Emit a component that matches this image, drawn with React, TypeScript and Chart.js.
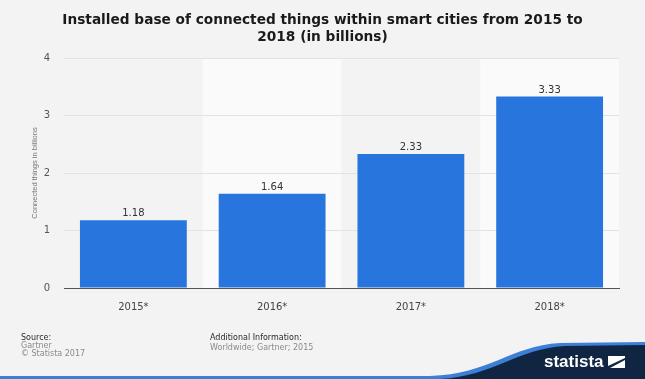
import React, { useEffect, useRef } from "react";
import { Chart, registerables } from "chart.js";

Chart.register(...registerables);

const categories = ["2015*", "2016*", "2017*", "2018*"];
const values = [1.18, 1.64, 2.33, 3.33];
const valueLabels = ["1.18", "1.64", "2.33", "3.33"];
const titleLines = [
  "Installed base of connected things within smart cities from 2015 to",
  "2018 (in billions)",
];
const yAxisTitle = "Connected things in billions";

const W = 645;
const H = 379;

const decor = {
  id: "decor",
  beforeDraw(chart: any) {
    const { ctx, chartArea, scales } = chart;
    ctx.save();
    ctx.fillStyle = "#f3f3f3";
    ctx.fillRect(0, 0, W, H);
    const x = scales.x;
    const step = (chartArea.right - chartArea.left) / categories.length;
    ctx.fillStyle = "#fafafa";
    categories.forEach((_, i) => {
      if (i % 2 === 1) {
        const cx = x.getPixelForValue(i);
        ctx.fillRect(cx - step / 2, chartArea.top, step, chartArea.bottom - chartArea.top);
      }
    });
    ctx.restore();
  },
  afterDraw(chart: any) {
    const { ctx, chartArea } = chart;
    ctx.save();
    // title
    ctx.fillStyle = "#1a1a1a";
    ctx.font = "bold 13.7px 'DejaVu Sans'";
    ctx.textAlign = "center";
    ctx.textBaseline = "middle";
    ctx.fillText(titleLines[0], W / 2, 20);
    ctx.fillText(titleLines[1], W / 2, 37);
    // y axis title
    ctx.save();
    ctx.translate(35, (chartArea.top + chartArea.bottom) / 2);
    ctx.rotate(-Math.PI / 2);
    ctx.fillStyle = "#777";
    ctx.font = "7.5px 'Liberation Sans'";
    ctx.fillText(yAxisTitle, 0, 0);
    ctx.restore();
    // data labels
    const meta = chart.getDatasetMeta(0);
    ctx.fillStyle = "#333";
    ctx.font = "10px 'DejaVu Sans'";
    ctx.textBaseline = "alphabetic";
    meta.data.forEach((bar: any, i: number) => {
      ctx.fillText(valueLabels[i], bar.x, bar.y - 4);
    });
    // footer
    ctx.textAlign = "left";
    ctx.textBaseline = "middle";
    ctx.font = "8px 'DejaVu Sans'";
    ctx.fillStyle = "#2a2a2a";
    ctx.fillText("Source:", 21, 338);
    ctx.fillText("Additional Information:", 210, 338);
    ctx.fillStyle = "#8a8a8a";
    ctx.fillText("Gartner", 21, 346);
    ctx.fillText("\u00A9 Statista 2017", 21, 354);
    ctx.fillText("Worldwide; Gartner; 2015", 210, 348);
    // bottom blue line and logo shape
    ctx.beginPath();
    ctx.moveTo(0, 376);
    ctx.lineTo(430, 376);
    ctx.bezierCurveTo(490, 374, 510, 346, 560, 343);
    ctx.lineTo(645, 342);
    ctx.lineTo(645, 379);
    ctx.lineTo(0, 379);
    ctx.closePath();
    ctx.fillStyle = "#3d7fd6";
    ctx.fill();
    ctx.beginPath();
    ctx.moveTo(440, 379);
    ctx.bezierCurveTo(495, 376, 515, 349, 565, 346);
    ctx.lineTo(645, 345);
    ctx.lineTo(645, 379);
    ctx.closePath();
    ctx.fillStyle = "#0f2541";
    ctx.fill();
    ctx.fillStyle = "#ffffff";
    ctx.font = "bold 17px 'Liberation Sans'";
    ctx.textBaseline = "alphabetic";
    ctx.fillText("statista", 544, 367);
    // icon
    ctx.beginPath();
    ctx.moveTo(608, 356);
    ctx.lineTo(625, 356);
    ctx.lineTo(625, 358);
    ctx.lineTo(608, 366);
    ctx.closePath();
    ctx.fill();
    ctx.beginPath();
    ctx.moveTo(625, 360);
    ctx.lineTo(625, 368);
    ctx.lineTo(610, 368);
    ctx.closePath();
    ctx.fill();
    ctx.restore();
  },
};

export default function App() {
  const ref = useRef<HTMLCanvasElement>(null);
  useEffect(() => {
    if (!ref.current) return;
    const chart = new Chart(ref.current, {
      type: "bar",
      data: {
        labels: categories,
        datasets: [
          {
            data: values,
            backgroundColor: "#2876dd",
            borderWidth: 0,
            barPercentage: 0.77,
            categoryPercentage: 1,
          },
        ],
      },
      options: {
        animation: false,
        responsive: false,
        devicePixelRatio: 1,
        layout: { padding: { left: 0, top: 58, right: 26, bottom: 66 } },
        plugins: { legend: { display: false }, tooltip: { enabled: false }, title: { display: false } },
        scales: {
          x: {
            grid: { display: false },
            border: { display: true, color: "#555", width: 1 },
            ticks: { color: "#444", font: { family: "'DejaVu Sans'", size: 10 }, padding: 5 },
            afterFit: (s: any) => { s.height = 25; },
          },
          y: {
            min: 0,
            max: 4,
            grid: { color: (c: any) => (c.tick && c.tick.value === 0 ? "rgba(0,0,0,0)" : "#e3e3e3"), drawTicks: false },
            border: { display: false },
            ticks: { stepSize: 1, color: "#555", font: { family: "'DejaVu Sans'", size: 10 }, padding: 14 },
            afterFit: (s: any) => { s.width = 64; },
          },
        },
      },
      plugins: [decor],
    });
    return () => chart.destroy();
  }, []);
  return (
    <div style={{ position: "fixed", left: 0, top: 0, width: W, height: H }}>
      <canvas ref={ref} width={W} height={H} style={{ width: W, height: H, display: "block" }} />
    </div>
  );
}
